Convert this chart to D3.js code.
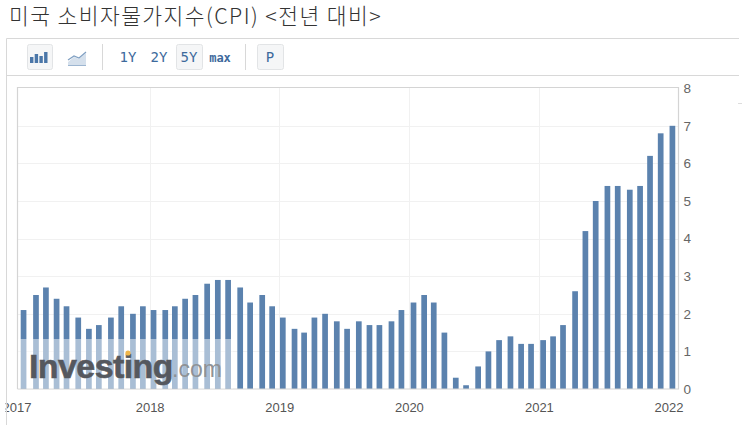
<!DOCTYPE html>
<html>
<head>
<meta charset="utf-8">
<script src="https://cdn.jsdelivr.net/npm/d3@7"></script>
<style>
  html, body { margin: 0; padding: 0; background: #fff; overflow: hidden; }
  svg { display: block; }
  text { font-family: "Liberation Sans", Arial, sans-serif; }
</style>
</head>
<body>
<svg id="chart" width="743" height="429"></svg>
<script>
  var title = '미국 소비자물가지수(CPI) <전년 대비>';

  // release dates of each monthly figure
  var releaseDates = [
    '2017-01-11','2017-02-15','2017-03-15','2017-04-14','2017-05-12','2017-06-14','2017-07-14','2017-08-11','2017-09-14','2017-10-13','2017-11-15','2017-12-13',
    '2018-01-12','2018-02-14','2018-03-13','2018-04-11','2018-05-10','2018-06-12','2018-07-12','2018-08-10','2018-09-13','2018-10-11','2018-11-14','2018-12-12',
    '2019-01-11','2019-02-13','2019-03-12','2019-04-10','2019-05-10','2019-06-12','2019-07-11','2019-08-13','2019-09-12','2019-10-10','2019-11-13','2019-12-11',
    '2020-01-14','2020-02-13','2020-03-11','2020-04-10','2020-05-12','2020-06-10','2020-07-14','2020-08-12','2020-09-11','2020-10-13','2020-11-12','2020-12-10',
    '2021-01-13','2021-02-10','2021-03-10','2021-04-13','2021-05-12','2021-06-10','2021-07-13','2021-08-11','2021-09-14','2021-10-13','2021-11-10','2021-12-10',
    '2022-01-12'
  ];
  var cpiValues = [
    2.1,2.5,2.7,2.4,2.2,1.9,1.6,1.7,1.9,2.2,2.0,2.2,
    2.1,2.1,2.2,2.4,2.5,2.8,2.9,2.9,2.7,2.3,2.5,2.2,
    1.9,1.6,1.5,1.9,2.0,1.8,1.6,1.8,1.7,1.7,1.8,2.1,
    2.3,2.5,2.3,1.5,0.3,0.1,0.6,1.0,1.3,1.4,1.2,1.2,
    1.3,1.4,1.7,2.6,4.2,5.0,5.4,5.4,5.3,5.4,6.2,6.8,
    7.0
  ];
  var yearTicks = [2017, 2018, 2019, 2020, 2021, 2022];
  var valueTicks = [0, 1, 2, 3, 4, 5, 6, 7, 8];
  var rangeButtons = ['1Y', '2Y', '5Y', 'max'];

  var parseDate = d3.timeParse('%Y-%m-%d');
  var plotLeft = 17.5, plotRight = 678.5, plotTop = 87, plotBottom = 389;
  var barWidth = 5.7;
  var barColor = '#5b82ae';

  var svg = d3.select('#chart');

  var x = d3.scaleTime()
    .domain([new Date(2017, 0, 1), new Date(2022, 0, 1)])
    .range([20, 668.5]);
  var y = d3.scaleLinear().domain([0, 8]).range([plotBottom, 88.2]);

  svg.append('text')
    .attr('x', 9).attr('y', 24)
    .style('font-family', '"Noto Sans CJK KR"')
    .style('font-size', '21.5px')
    .style('font-weight', 300)
    .style('letter-spacing', '1.42px')
    .attr('fill', '#333')
    .text(title);

  // outer frame and toolbar
  var frame = svg.append('g').attr('fill', 'none').attr('stroke', '#d8d8d8');
  frame.append('path').attr('d', 'M6.5,425V38.5H739');
  frame.append('path').attr('d', 'M6.5,75.5H739');
  frame.append('path').attr('d', 'M102.5,44V70M245.5,44V70');

  function button(x0, w) {
    svg.append('rect')
      .attr('x', x0 + 0.5).attr('y', 44.5)
      .attr('width', w).attr('height', 25)
      .attr('rx', 2)
      .attr('fill', '#f5f6f7')
      .attr('stroke', '#e2e4e6');
  }
  button(27, 25);
  button(176, 26);
  button(257, 26);

  // bar chart icon
  var iconBars = [6, 9, 7, 11];
  svg.append('g').selectAll('rect')
    .data(iconBars)
    .join('rect')
    .attr('x', function(d, i) { return 30 + i * 4.7; })
    .attr('y', function(d) { return 63 - d; })
    .attr('width', 3.4)
    .attr('height', function(d) { return d; })
    .attr('fill', '#4a76a8');

  // line chart icon
  svg.append('path')
    .attr('d', 'M68,62 L74,57 L79,59 L86,53 V65 H68 Z')
    .attr('fill', '#d5e0ec');
  svg.append('path')
    .attr('d', 'M68,60 L74,56 L79,58 L86,52')
    .attr('fill', 'none').attr('stroke', '#7f9fc2').attr('stroke-width', 1.2);
  svg.append('path')
    .attr('d', 'M68,65.5H86')
    .attr('stroke', '#9db6d1');

  var buttonX = d3.scaleOrdinal().domain(rangeButtons).range([128, 159, 189, 220]);
  svg.append('g').selectAll('text')
    .data(rangeButtons)
    .join('text')
    .attr('x', function(d) { return buttonX(d); })
    .attr('y', 62)
    .attr('text-anchor', 'middle')
    .style('font-family', '"DejaVu Sans Mono"')
    .style('font-size', function(d) { return d === 'max' ? '12px' : '14px'; })
    .style('font-weight', function(d) { return d === 'max' ? 'bold' : 'normal'; })
    .attr('fill', '#3d6a9c')
    .text(function(d) { return d; });
  svg.append('text')
    .attr('x', 270).attr('y', 62)
    .attr('text-anchor', 'middle')
    .style('font-family', '"DejaVu Sans Mono"')
    .style('font-size', '14px')
    .attr('fill', '#3d6a9c')
    .text('P');

  svg.append('path').attr('d', 'M738,103.5h4').attr('stroke', '#ddd');

  // plot grid
  var grid = svg.append('g').attr('stroke', '#f1f1f1').attr('fill', 'none');
  grid.selectAll('line.h')
    .data(valueTicks.slice(1, -1))
    .join('line')
    .attr('class', 'h')
    .attr('x1', plotLeft).attr('x2', plotRight)
    .attr('y1', function(d) { return Math.round(y(d)) + 0.5; })
    .attr('y2', function(d) { return Math.round(y(d)) + 0.5; });
  grid.selectAll('line.v')
    .data(yearTicks.slice(1, -1))
    .join('line')
    .attr('class', 'v')
    .attr('y1', plotTop).attr('y2', plotBottom)
    .attr('x1', function(d) { return Math.round(x(new Date(d, 0, 1))) + 0.5; })
    .attr('x2', function(d) { return Math.round(x(new Date(d, 0, 1))) + 0.5; });

  svg.append('g').selectAll('rect')
    .data(cpiValues)
    .join('rect')
    .attr('x', function(d, i) { return x(parseDate(releaseDates[i])) - barWidth / 2; })
    .attr('y', function(d) { return y(d); })
    .attr('width', barWidth)
    .attr('height', function(d) { return y(0) - y(d); })
    .attr('fill', barColor);

  svg.append('path')
    .attr('d', 'M' + plotLeft + ',' + plotBottom + 'V' + (plotTop + 0.5) + 'H' + plotRight + 'V' + plotBottom + 'H' + plotLeft)
    .attr('fill', 'none')
    .attr('stroke', '#d4d4d4')
    .attr('stroke-width', 1.2);

  // axes
  var yAxis = d3.axisRight(y).tickValues(valueTicks).tickSize(0).tickPadding(5);
  var yG = svg.append('g').attr('transform', 'translate(' + plotRight + ',0)').call(yAxis);
  yG.select('.domain').remove();
  yG.selectAll('text')
    .style('font-size', '13.5px')
    .style('font-family', '"Liberation Sans"')
    .attr('fill', '#666');

  var xAxis = d3.axisBottom(x)
    .tickValues(yearTicks.map(function(d) { return new Date(d, 0, 1); }))
    .tickFormat(d3.timeFormat('%Y'))
    .tickSize(0)
    .tickPadding(14);
  var xG = svg.append('g').attr('transform', 'translate(0,' + plotBottom + ')').call(xAxis);
  xG.select('.domain').remove();
  xG.selectAll('text')
    .style('font-size', '13px')
    .style('font-family', '"Liberation Sans"')
    .attr('fill', '#555');
  // the first label sits further left and gets cut by the frame
  xG.selectAll('text').filter(function(d, i) { return i === 0; }).attr('dx', -3.5);

  svg.append('rect')
    .attr('x', 0).attr('y', 395).attr('width', 5.5).attr('height', 25)
    .attr('fill', '#fff');
  svg.append('path').attr('d', 'M6.5,395V425').attr('stroke', '#d8d8d8');

  // watermark
  svg.append('rect')
    .attr('x', 18).attr('y', 339)
    .attr('width', 215).attr('height', 49.5)
    .attr('fill', '#fff')
    .attr('opacity', 0.48);
  svg.append('text')
    .attr('x', 29).attr('y', 377.5)
    .style('font-size', '34px')
    .style('font-weight', 'bold')
    .style('letter-spacing', '-0.6px')
    .attr('fill', '#55585e')
    .attr('stroke', '#55585e')
    .attr('stroke-width', 0.6)
    .text('Investing');
  svg.append('text')
    .attr('x', 172).attr('y', 377)
    .style('font-size', '23px')
    .attr('fill', '#8f9296')
    .text('.com');
  svg.append('circle')
    .attr('cx', 128).attr('cy', 353).attr('r', 2.6)
    .attr('fill', '#f0b64a');
</script>
</body>
</html>
